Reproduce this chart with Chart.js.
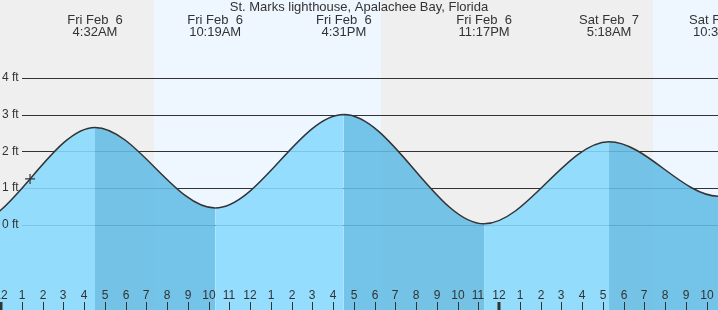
<!DOCTYPE html>
<html lang="en">
<head>
    <meta charset="UTF-8">
    <title>St. Marks lighthouse tide</title>
    <script src="https://cdn.jsdelivr.net/npm/chart.js"></script>
    <style>
        html, body { margin: 0; padding: 0; background: #efefef; }
        #wrap { width: 718px; height: 310px; position: relative; }
    </style>
</head>
<body>
    <div id="wrap"><canvas id="tideChart"></canvas></div>
    <script>
        // hours after Fri Feb 6 00:00, tide extremes (first two and last are outside the window)
        const tideHours = [-8.0, -1.5, 4.53, 10.32, 16.52, 23.28, 29.30, 34.6, 40.9];
        const tideFeet = [2.9, 0.0, 2.65, 0.46, 3.0, 0.03, 2.26, 0.78, 2.9];
        const eventDays = ['', '', 'Fri Feb  6', 'Fri Feb  6', 'Fri Feb  6', 'Fri Feb  6', 'Sat Feb  7', 'Sat Feb  7', ''];
        const eventTimes = ['', '', '4:32AM', '10:19AM', '4:31PM', '11:17PM', '5:18AM', '10:36AM', ''];

        // daylight (sunrise, sunset) in the same hours
        const sunrise = [7.37, 31.42];
        const sunset = [18.31, 42.3];

        const feetTicks = [0, 1, 2, 3, 4];
        const nowMark = [{ x: 1.4, y: 1.25 }];

        const FONT = '"Liberation Sans", Arial, sans-serif';
        const INK = '#333333';

        const backdrop =
        {
            id: 'backdrop',
            beforeDatasetsDraw(chart)
            {
                const ctx = chart.ctx;
                const xs = chart.scales.x;
                const ys = chart.scales.y;
                const area = chart.chartArea;
                ctx.save();
                ctx.fillStyle = '#efefef';
                ctx.fillRect(area.left, area.top, area.right - area.left, area.bottom - area.top);
                ctx.fillStyle = '#eef7ff';
                for (let i = 0; i < sunrise.length; i++)
                {
                    const a = xs.getPixelForValue(sunrise[i]);
                    const b = xs.getPixelForValue(sunset[i]);
                    ctx.fillRect(a, area.top, b - a, area.bottom - area.top);
                }
                ctx.strokeStyle = INK;
                ctx.lineWidth = 1;
                feetTicks.forEach(f =>
                {
                    const y = Math.round(ys.getPixelForValue(f)) + 0.5;
                    ctx.beginPath();
                    ctx.moveTo(22, y);
                    ctx.lineTo(area.right, y);
                    ctx.stroke();
                });
                ctx.restore();
            },
            afterDraw(chart)
            {
                const ctx = chart.ctx;
                const xs = chart.scales.x;
                const ys = chart.scales.y;
                const area = chart.chartArea;
                ctx.save();
                ctx.fillStyle = INK;
                ctx.strokeStyle = INK;
                ctx.textBaseline = 'middle';
                ctx.font = '12px ' + FONT;
                ctx.textAlign = 'left';
                feetTicks.forEach(f =>
                {
                    ctx.fillText(f + ' ft', 2, ys.getPixelForValue(f));
                });
                ctx.textAlign = 'center';
                ctx.font = '13px ' + FONT;
                ctx.fillText('St. Marks lighthouse, Apalachee Bay, Florida', 359, 7);
                for (let i = 0; i < tideHours.length; i++)
                {
                    if (!eventDays[i]) continue;
                    const x = xs.getPixelForValue(tideHours[i]);
                    ctx.fillText(eventDays[i], x, 20);
                    ctx.fillText(eventTimes[i], x, 32);
                }
                ctx.font = '12px ' + FONT;
                for (let h = 0; h <= 34; h++)
                {
                    const x = Math.round(xs.getPixelForValue(h));
                    const label = (h % 12) || 12;
                    ctx.fillText(String(label), x, 296);
                    const midnight = h % 24 === 0;
                    ctx.lineWidth = midnight ? 3 : 1;
                    ctx.beginPath();
                    ctx.moveTo(midnight ? x : x + 0.5, 302);
                    ctx.lineTo(midnight ? x : x + 0.5, area.bottom);
                    ctx.stroke();
                }
                ctx.restore();
            }
        };

        const points = tideHours.map((h, i) => ({ x: h, y: tideFeet[i] }));

        new Chart(document.getElementById('tideChart').getContext('2d'),
        {
            type: 'line',
            data:
            {
                datasets:
                [{
                    data: nowMark,
                    type: 'scatter',
                    pointStyle: 'cross',
                    pointRadius: 5,
                    borderColor: INK,
                    borderWidth: 1.2,
                    order: 0
                },
                {
                    data: points,
                    borderColor: INK,
                    borderWidth: 1.5,
                    pointRadius: 0,
                    cubicInterpolationMode: 'monotone',
                    fill: 'start',
                    backgroundColor: 'rgba(136,217,254,0.88)',
                    segment:
                    {
                        backgroundColor: ctx => ctx.p1.parsed.y > ctx.p0.parsed.y ? 'rgba(136,217,254,0.88)' : 'rgba(99,188,229,0.88)'
                    },
                    order: 1
                }]
            },
            options:
            {
                responsive: true,
                maintainAspectRatio: false,
                animation: false,
                layout: { padding: 0, autoPadding: false },
                plugins:
                {
                    legend: { display: false },
                    tooltip: { enabled: false }
                },
                scales:
                {
                    x: { type: 'linear', min: -0.048, max: 34.55, display: false },
                    y: { min: -2.31, max: 6.11, display: false }
                }
            },
            plugins: [backdrop]
        });
    </script>
</body>
</html>
